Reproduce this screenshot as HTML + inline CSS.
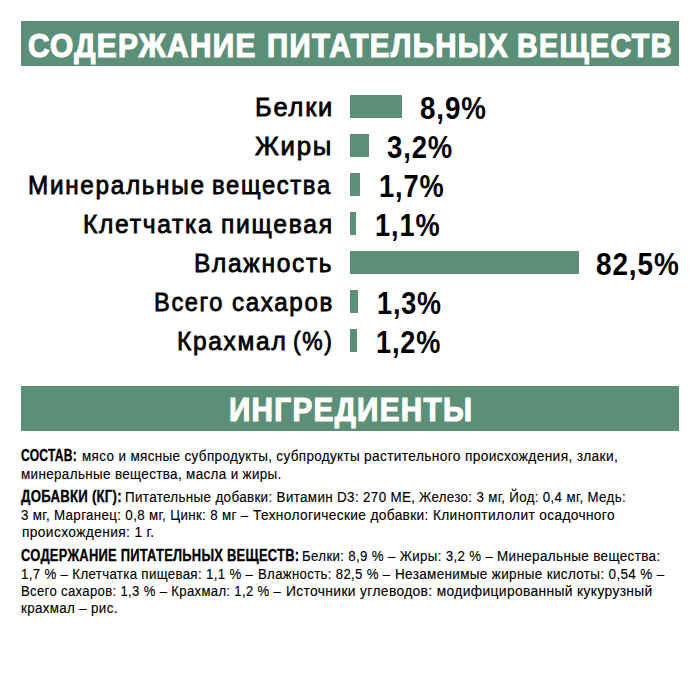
<!DOCTYPE html>
<html lang="ru">
<head>
<meta charset="utf-8">
<style>
html,body{margin:0;padding:0;background:#fff;}
body{width:700px;height:700px;position:relative;overflow:hidden;font-family:"Liberation Sans",sans-serif;color:#000;}
.band{position:absolute;left:21px;width:658px;height:45px;background:#5c8f77;}
.bar{position:absolute;left:350px;height:23px;background:#5c8f77;}
.t{position:absolute;white-space:nowrap;line-height:1;transform-origin:0 0;}
.h{color:#fff;font-weight:bold;letter-spacing:1.5px;-webkit-text-stroke:1.2px #fff;}
.lab{color:#000;-webkit-text-stroke:0.8px #000;letter-spacing:1.8px;}
.num{font-weight:bold;color:#000;letter-spacing:1px;}
.b{color:#000;-webkit-text-stroke:0.15px #000;letter-spacing:0.4px;}
.bb{font-weight:bold;color:#000;letter-spacing:0.3px;-webkit-text-stroke:0.3px #000;}
</style>
</head>
<body>
<div class="band" style="top:21px"></div>
<div class="band" style="top:386px"></div>
<div class="bar" style="top:95px;width:52.0px"></div>
<div class="bar" style="top:134px;width:18.6px"></div>
<div class="bar" style="top:173px;width:10.0px"></div>
<div class="bar" style="top:212px;width:6.2px"></div>
<div class="bar" style="top:251px;width:228.6px"></div>
<div class="bar" style="top:290px;width:7.7px"></div>
<div class="bar" style="top:329px;width:6.8px"></div>
<div class="t h" style="left:28.41px;top:28.50px;font-size:33.5px;transform:scaleX(0.8894);">СОДЕРЖАНИЕ</div>
<div class="t h" style="left:266.84px;top:28.50px;font-size:33.5px;transform:scaleX(0.8790);">ПИТАТЕЛЬНЫХ</div>
<div class="t h" style="left:517.18px;top:28.50px;font-size:33.5px;transform:scaleX(0.8576);">ВЕЩЕСТВ</div>
<div class="t h" style="left:228.53px;top:393.20px;font-size:33.5px;transform:scaleX(0.8845);">ИНГРЕДИЕНТЫ</div>
<div class="t lab" style="left:254.64px;top:94.10px;font-size:26px;transform:scaleX(0.9789);">Белки</div>
<div class="t lab" style="left:255.30px;top:133.10px;font-size:26px;transform:scaleX(0.9908);">Жиры</div>
<div class="t lab" style="left:27.83px;top:172.10px;font-size:26px;transform:scaleX(0.9349);">Минеральные</div>
<div class="t lab" style="left:211.98px;top:172.10px;font-size:26px;transform:scaleX(0.9155);">вещества</div>
<div class="t lab" style="left:83.21px;top:211.10px;font-size:26px;transform:scaleX(0.9467);">Клетчатка</div>
<div class="t lab" style="left:221.15px;top:211.10px;font-size:26px;transform:scaleX(0.9487);">пищевая</div>
<div class="t lab" style="left:193.82px;top:250.10px;font-size:26px;transform:scaleX(0.9424);">Влажность</div>
<div class="t lab" style="left:153.98px;top:289.10px;font-size:26px;transform:scaleX(0.9082);">Всего</div>
<div class="t lab" style="left:232.17px;top:289.10px;font-size:26px;transform:scaleX(0.9274);">сахаров</div>
<div class="t lab" style="left:177.22px;top:328.10px;font-size:26px;transform:scaleX(0.9420);">Крахмал</div>
<div class="t lab" style="left:293.12px;top:328.10px;font-size:26px;transform:scaleX(0.8810);">(%)</div>
<div class="t num" style="left:419.81px;top:92.70px;font-size:31px;transform:scaleX(0.8931);">8,9%</div>
<div class="t num" style="left:386.82px;top:131.70px;font-size:31px;transform:scaleX(0.8847);">3,2%</div>
<div class="t num" style="left:378.85px;top:170.70px;font-size:31px;transform:scaleX(0.8775);">1,7%</div>
<div class="t num" style="left:375.45px;top:209.70px;font-size:31px;transform:scaleX(0.8761);">1,1%</div>
<div class="t num" style="left:596.10px;top:248.70px;font-size:31px;transform:scaleX(0.9000);">82,5%</div>
<div class="t num" style="left:376.86px;top:287.70px;font-size:31px;transform:scaleX(0.8704);">1,3%</div>
<div class="t num" style="left:376.15px;top:326.70px;font-size:31px;transform:scaleX(0.8746);">1,2%</div>
<div class="t bb" style="left:21.04px;top:448.30px;font-size:16px;transform:scaleX(0.7569);">СОСТАВ:</div>
<div class="t b" style="left:81.63px;top:448.30px;font-size:15.5px;transform:scaleX(0.8695);">мясо и мясные субпродукты, субпродукты</div>
<div class="t b" style="left:363.71px;top:448.30px;font-size:15.5px;transform:scaleX(0.8856);">растительного происхождения, злаки,</div>
<div class="t b" style="left:21.23px;top:466.30px;font-size:15.5px;transform:scaleX(0.8674);">минеральные вещества, масла и жиры.</div>
<div class="t bb" style="left:21.30px;top:489.40px;font-size:16px;transform:scaleX(0.8248);">ДОБАВКИ (КГ):</div>
<div class="t b" style="left:125.14px;top:489.40px;font-size:15.5px;transform:scaleX(0.8649);">Питательные добавки: Витамин D3: 270 МЕ,</div>
<div class="t b" style="left:418.90px;top:489.40px;font-size:15.5px;transform:scaleX(0.8579);">Железо: 3 мг, Йод: 0,4 мг, Медь:</div>
<div class="t b" style="left:21.24px;top:506.90px;font-size:15.5px;transform:scaleX(0.8605);">3 мг, Марганец: 0,8 мг, Цинк: 8 мг –</div>
<div class="t b" style="left:253.30px;top:506.90px;font-size:15.5px;transform:scaleX(0.8841);">Технологические добавки: Клиноптилолит осадочного</div>
<div class="t b" style="left:21.51px;top:524.20px;font-size:15.5px;transform:scaleX(0.8897);">происхождения: 1 г.</div>
<div class="t bb" style="left:21.19px;top:548.00px;font-size:16px;transform:scaleX(0.8079);">СОДЕРЖАНИЕ ПИТАТЕЛЬНЫХ ВЕЩЕСТВ:</div>
<div class="t b" style="left:302.04px;top:548.00px;font-size:15.5px;transform:scaleX(0.8559);">Белки: 8,9 % – Жиры: 3,2 % –</div>
<div class="t b" style="left:497.13px;top:548.00px;font-size:15.5px;transform:scaleX(0.8703);">Минеральные вещества:</div>
<div class="t b" style="left:21.45px;top:565.50px;font-size:15.5px;transform:scaleX(0.8546);">1,7 % – Клетчатка пищевая: 1,1 % –</div>
<div class="t b" style="left:258.15px;top:565.50px;font-size:15.5px;transform:scaleX(0.8497);">Влажность: 82,5 % –</div>
<div class="t b" style="left:395.23px;top:565.50px;font-size:15.5px;transform:scaleX(0.8702);">Незаменимые жирные кислоты: 0,54 % –</div>
<div class="t b" style="left:21.45px;top:582.50px;font-size:15.5px;transform:scaleX(0.8458);">Всего сахаров: 1,3 % – Крахмал: 1,2 % –</div>
<div class="t b" style="left:285.71px;top:582.50px;font-size:15.5px;transform:scaleX(0.8910);">Источники углеводов: модифицированный кукурузный</div>
<div class="t b" style="left:21.44px;top:600.30px;font-size:15.5px;transform:scaleX(0.8618);">крахмал – рис.</div>
</body>
</html>
